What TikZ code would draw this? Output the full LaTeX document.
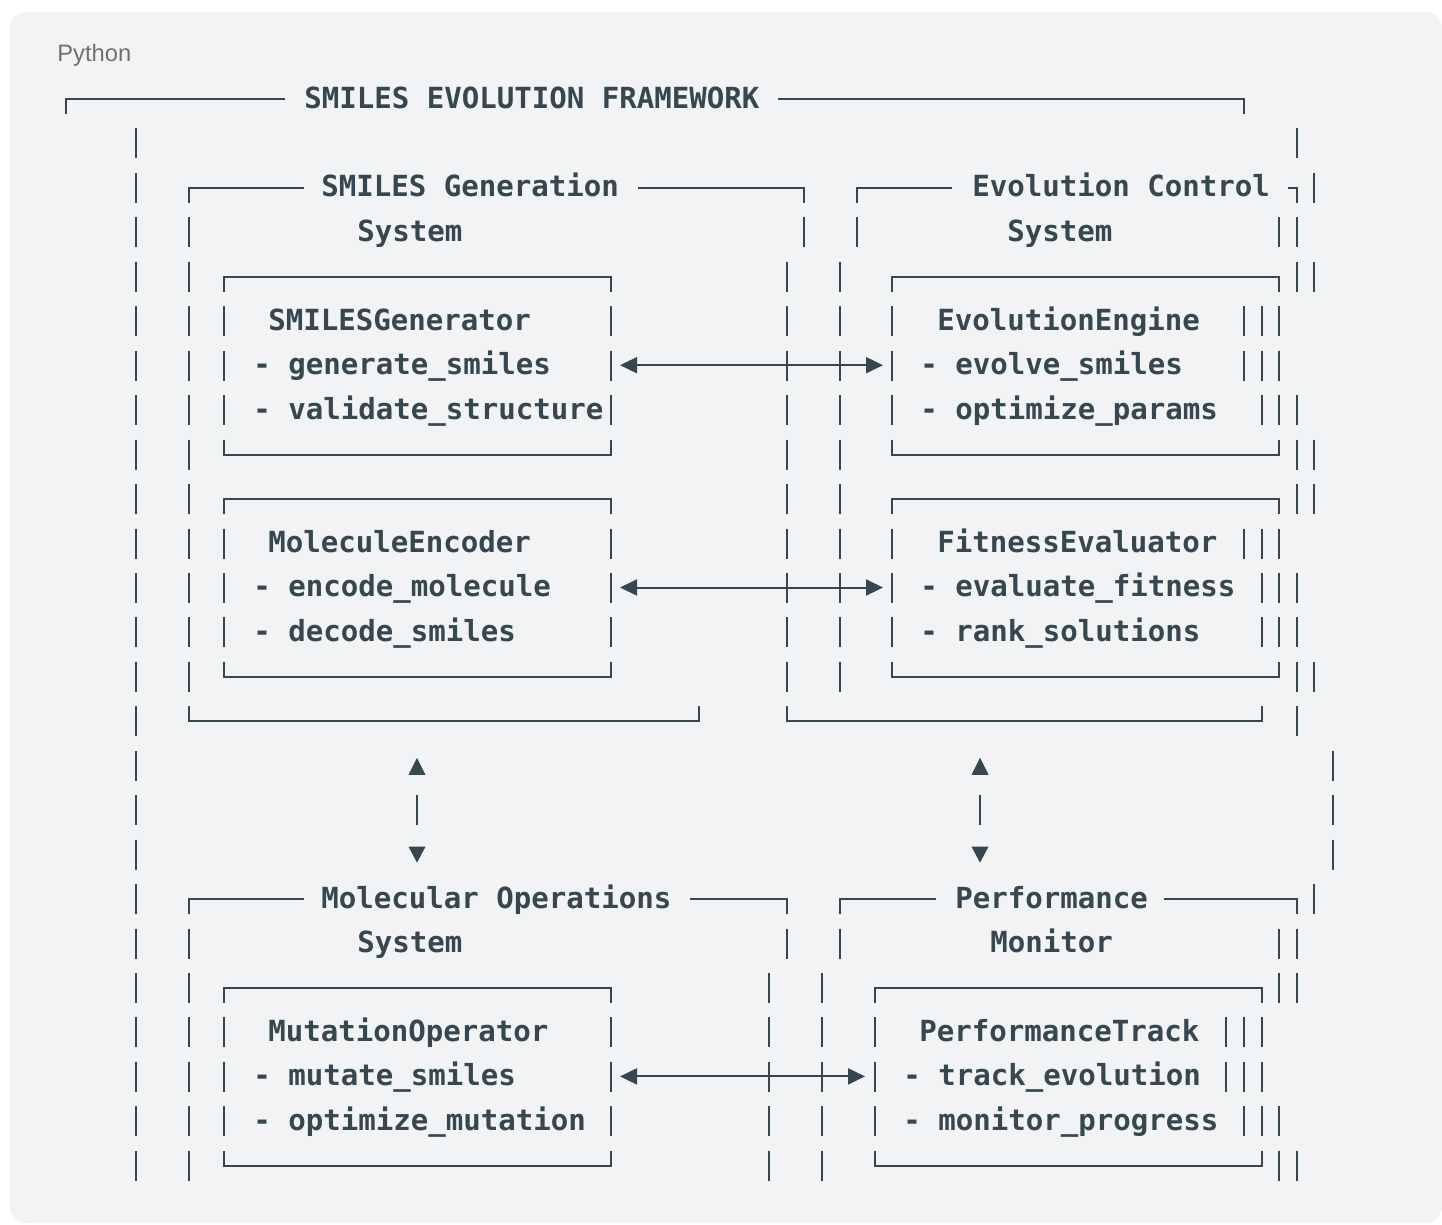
\documentclass[tikz,border=0pt]{standalone}
\usepackage{fontspec}
\usetikzlibrary{arrows.meta}
\newfontfamily\codefont{DejaVu Sans Mono}
\newfontfamily\tagfont{Liberation Sans}
\definecolor{ink}{RGB}{55,71,79}
\definecolor{panel}{RGB}{241,243,244}
\definecolor{tagGray}{RGB}{112,112,112}
\tikzset{
	bar/.style     ={draw=ink, line width=1.4pt},
	edge/.style    ={draw=ink, line width=1.15pt},
	codetext/.style={font=\codefont\bfseries\fontsize{16.55}{20}\selectfont, text=ink, anchor=base west, inner sep=0pt},
	tag/.style     ={font=\tagfont\fontsize{13.5}{16}\selectfont, text=tagGray, anchor=base west, inner sep=0pt},
	hlink/.style   ={edge, {Triangle[length=3.4mm,width=3.2mm]}-{Triangle[length=3.4mm,width=3.2mm]}},
}
% glyph helpers: x in px, #2 = text row
\newcommand{\glyphbar}[2]{\draw[bar] (#1,{97+44.45*(#2)-13}) -- (#1,{97+44.45*(#2)+17});}
\newcommand{\boxtop}[3]{\draw[edge] (#1,{97+44.45*(#3)+17}) -- (#1,{97+44.45*(#3)+2}) -- (#2,{97+44.45*(#3)+2}) -- (#2,{97+44.45*(#3)+17});}
\newcommand{\boxbot}[3]{\draw[edge] (#1,{97+44.45*(#3)-13}) -- (#1,{97+44.45*(#3)+2}) -- (#2,{97+44.45*(#3)+2}) -- (#2,{97+44.45*(#3)-13});}
\newcommand{\capleft}[3]{\draw[edge] (#1,{97+44.45*(#3)+17}) -- (#1,{97+44.45*(#3)+2}) -- (#2,{97+44.45*(#3)+2});}
\newcommand{\capright}[3]{\draw[edge] (#1,{97+44.45*(#3)+2}) -- (#2,{97+44.45*(#3)+2}) -- (#2,{97+44.45*(#3)+17});}
\newcommand{\uptri}[2]{\fill[ink] ({#1-8.5},{97+44.45*(#2)+11}) -- ({#1+8.5},{97+44.45*(#2)+11}) -- (#1,{97+44.45*(#2)-6}) -- cycle;}
\newcommand{\downtri}[2]{\fill[ink] ({#1-8.5},{97+44.45*(#2)-6}) -- ({#1+8.5},{97+44.45*(#2)-6}) -- (#1,{97+44.45*(#2)+10}) -- cycle;}

\begin{document}
\begin{tikzpicture}[x=0.02cm, y=-0.02cm]
	\useasboundingbox (0,0) rectangle (1442,1224);
	% code block
	\fill[panel, rounded corners=3.2mm] (10,12) rectangle (1442,1223);
	\node[tag] (lang) at (57,61) {Python};
	% vertical bars, row by row
	\foreach \r/\xs in {1/{136,1297}, 2/{136,1314}, 3/{136,189,804,857,1279,1297},
		4/{136,189,787,840,1297,1314}, 5/{136,189,224,611,787,840,892,1244,1262,1279},
		6/{136,189,224,611,787,840,892,1244,1262,1279}, 7/{136,189,224,611,787,840,892,1262,1279,1297},
		8/{136,189,787,840,1297,1314}, 9/{136,189,787,840,1297,1314},
		10/{136,189,224,611,787,840,892,1244,1262,1279}, 11/{136,189,224,611,787,840,892,1262,1279,1297},
		12/{136,189,224,611,787,840,892,1262,1279,1297}, 13/{136,189,787,840,1297,1314},
		14/{136,1297}, 15/{136,1333}, 16/{136,417,980,1333}, 17/{136,1333}, 18/{136,1314},
		19/{136,189,787,840,1279,1297}, 20/{136,189,769,822,1279,1297},
		21/{136,189,224,611,769,822,875,1226,1244,1262}, 22/{136,189,224,611,769,822,875,1226,1244,1262},
		23/{136,189,224,611,769,822,875,1244,1262,1279}, 24/{136,189,769,822,1279,1297}}
		{\foreach \x in \xs {\glyphbar{\x}{\r}}}
	% title rows
	\capleft{66}{285}{0} \capright{778}{1244}{0}
	\capleft{189}{304}{2} \capright{638}{804}{2} \capleft{857}{952}{2} \capright{1288}{1297}{2}
	\capleft{189}{304}{18} \capright{690}{787}{18} \capleft{840}{936}{18} \capright{1164}{1297}{18}
	% inner boxes
	\foreach \t/\b in {4/8, 9/13} {\boxtop{224}{611}{\t} \boxbot{224}{611}{\b} \boxtop{892}{1279}{\t} \boxbot{892}{1279}{\b}}
	\boxtop{224}{611}{20} \boxbot{224}{611}{24} \boxtop{875}{1262}{20} \boxbot{875}{1262}{24}
	\boxbot{189}{699}{14} \boxbot{787}{1262}{14}
	% vertical links
	\foreach \x in {417,980} {\uptri{\x}{15} \downtri{\x}{17}}
	% texts
	\node[codetext] (title) at (304,{108+44.45*0}) {SMILES EVOLUTION FRAMEWORK};
	\node[codetext] (genSys) at (321,{108+44.45*2}) {SMILES Generation};
	\node[codetext] (genSysB) at (357,{108+44.45*3}) {System};
	\node[codetext] (evoSys) at (972,{108+44.45*2}) {Evolution Control};
	\node[codetext] (evoSysB) at (1007,{108+44.45*3}) {System};
	\node[codetext] (smGen) at (268,{108+44.45*5}) {SMILESGenerator};
	\node[codetext] (smGenA) at (253,{108+44.45*6}) {- generate\_smiles};
	\node[codetext] (smGenB) at (253,{108+44.45*7}) {- validate\_structure};
	\node[codetext] (evEng) at (937,{108+44.45*5}) {EvolutionEngine};
	\node[codetext] (evEngA) at (920,{108+44.45*6}) {- evolve\_smiles};
	\node[codetext] (evEngB) at (920,{108+44.45*7}) {- optimize\_params};
	\node[codetext] (molEnc) at (268,{108+44.45*10}) {MoleculeEncoder};
	\node[codetext] (molEncA) at (253,{108+44.45*11}) {- encode\_molecule};
	\node[codetext] (molEncB) at (253,{108+44.45*12}) {- decode\_smiles};
	\node[codetext] (fitEv) at (937,{108+44.45*10}) {FitnessEvaluator};
	\node[codetext] (fitEvA) at (920,{108+44.45*11}) {- evaluate\_fitness};
	\node[codetext] (fitEvB) at (920,{108+44.45*12}) {- rank\_solutions};
	\node[codetext] (opSys) at (321,{108+44.45*18}) {Molecular Operations};
	\node[codetext] (opSysB) at (357,{108+44.45*19}) {System};
	\node[codetext] (perfSys) at (955,{108+44.45*18}) {Performance};
	\node[codetext] (perfSysB) at (990,{108+44.45*19}) {Monitor};
	\node[codetext] (mutOp) at (268,{108+44.45*21}) {MutationOperator};
	\node[codetext] (mutOpA) at (253,{108+44.45*22}) {- mutate\_smiles};
	\node[codetext] (mutOpB) at (253,{108+44.45*23}) {- optimize\_mutation};
	\node[codetext] (perfTr) at (919,{108+44.45*21}) {PerformanceTrack};
	\node[codetext] (perfTrA) at (903,{108+44.45*22}) {- track\_evolution};
	\node[codetext] (perfTrB) at (903,{108+44.45*23}) {- monitor\_progress};
	% horizontal links
	\coordinate (genEnd) at (620,365.2);
	\coordinate (engEnd) at (883,365.2);
	\coordinate (encEnd) at (620,587.5);
	\coordinate (fitEnd) at (883,587.5);
	\coordinate (mutEnd) at (620,1076.4);
	\coordinate (trkEnd) at (865,1076.4);
	\draw[hlink] (genEnd) -- (engEnd);
	\draw[hlink] (encEnd) -- (fitEnd);
	\draw[hlink] (mutEnd) -- (trkEnd);
\end{tikzpicture}
\end{document}
